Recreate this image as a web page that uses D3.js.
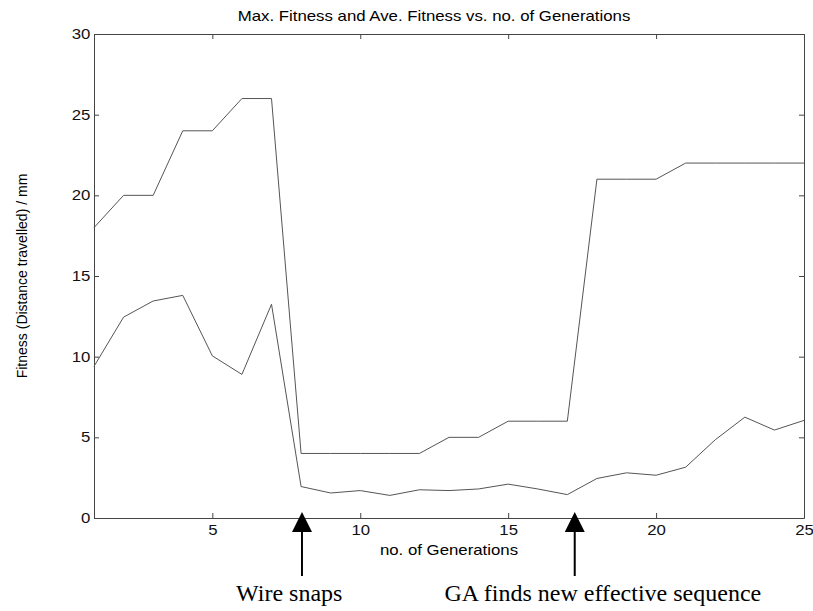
<!DOCTYPE html>
<html>
<head>
<meta charset="utf-8">
<script src="https://cdn.jsdelivr.net/npm/d3@7"></script>
<style>
  body { margin: 0; background: #fff; }
  svg { display: block; }
  .tick text { font-family: "Liberation Sans", Arial, sans-serif; font-size: 14px; fill: #111; }
</style>
</head>
<body>
<svg id="chart" width="813" height="611"></svg>
<script>
// generations 1..25
var generations = [1, 2, 3, 4, 5, 6, 7, 8, 9, 10, 11, 12, 13, 14, 15, 16, 17, 18, 19, 20, 21, 22, 23, 24, 25];
var maxFitness = [18, 20, 20, 24, 24, 26, 26, 4, 4, 4, 4, 4, 5, 5, 6, 6, 6, 21, 21, 21, 22, 22, 22, 22, 22];
var aveFitness = [9.4, 12.45, 13.45, 13.8, 10.05, 8.9, 13.25, 1.95, 1.55, 1.7, 1.4, 1.75, 1.7, 1.8, 2.1, 1.8, 1.45, 2.45, 2.8, 2.65, 3.15, 4.85, 6.25, 5.45, 6.05];
var xTicks = [5, 10, 15, 20, 25];
var yTicks = [0, 5, 10, 15, 20, 25, 30];
var annotations = [
    {gen: 8.03, label: "Wire snaps", textGen: 7.6},
    {gen: 17.25, label: "GA finds new effective sequence", textGen: 18.2}
];

var svg = d3.select("#chart");
var margin = {left: 94, top: 34, right: 9, bottom: 93};
var width = 813 - margin.left - margin.right,
    height = 611 - margin.top - margin.bottom;
var stretch = 1.2; // the figure text looks stretched sideways

var g = svg.append("g").attr("transform", "translate(" + margin.left + "," + margin.top + ")");

var x = d3.scaleLinear().domain([1, 25]).range([0, width]);
var y = d3.scaleLinear().domain([0, 30]).range([height, 0]);

var axisColor = "#444";

// bottom / left axes with labels, top / right just ticks (box)
var axBottom = g.append("g").attr("transform", "translate(0," + height + ")")
    .call(d3.axisBottom(x).tickValues(xTicks).tickSizeInner(-5).tickSizeOuter(0).tickPadding(7));
var axLeft = g.append("g")
    .call(d3.axisLeft(y).tickValues(yTicks).tickSizeInner(-5).tickSizeOuter(0));
var axTop = g.append("g")
    .call(d3.axisTop(x).tickValues(xTicks).tickSizeInner(-5).tickSizeOuter(0).tickFormat(""));
var axRight = g.append("g").attr("transform", "translate(" + width + ",0)")
    .call(d3.axisRight(y).tickValues(yTicks).tickSizeInner(-5).tickSizeOuter(0).tickFormat(""));

[axBottom, axLeft, axTop, axRight].forEach(function (a) {
    a.select(".domain").attr("stroke", axisColor);
    a.selectAll(".tick line").attr("stroke", axisColor);
});
axBottom.selectAll(".tick text").attr("transform", "scale(" + stretch + ",1)");
axLeft.selectAll(".tick text").attr("x", -3).attr("transform", "scale(" + stretch + ",1)");

var line = d3.line()
    .x(function (d, i) { return x(generations[i]); })
    .y(function (d) { return y(d); });

g.append("path").datum(maxFitness)
    .attr("d", line).attr("fill", "none").attr("stroke", "#555").attr("stroke-width", 1);
g.append("path").datum(aveFitness)
    .attr("d", line).attr("fill", "none").attr("stroke", "#555").attr("stroke-width", 1);

// title and axis labels
svg.append("text")
    .attr("transform", "translate(" + (margin.left + width / 2 - 15) + ",21) scale(" + stretch + ",1)")
    .attr("text-anchor", "middle")
    .style("font-family", "Liberation Sans, Arial, sans-serif").style("font-size", "14px")
    .text("Max. Fitness and Ave. Fitness vs. no. of Generations");

svg.append("text")
    .attr("transform", "translate(" + (margin.left + width / 2) + ",555) scale(" + stretch + ",1)")
    .attr("text-anchor", "middle")
    .style("font-family", "Liberation Sans, Arial, sans-serif").style("font-size", "14px")
    .text("no. of Generations");

svg.append("text")
    .attr("transform", "translate(27," + (margin.top + height / 2) + ") rotate(-90)")
    .attr("text-anchor", "middle")
    .style("font-family", "Liberation Sans, Arial, sans-serif").style("font-size", "14px")
    .text("Fitness (Distance travelled) / mm");

// annotation arrows
var ann = g.selectAll(".ann").data(annotations).enter().append("g").attr("class", "ann");
ann.append("line")
    .attr("x1", function (d) { return x(d.gen); }).attr("x2", function (d) { return x(d.gen); })
    .attr("y1", height + 12).attr("y2", height + 58)
    .attr("stroke", "#000").attr("stroke-width", 2);
ann.append("path")
    .attr("d", function (d) {
        var cx = x(d.gen);
        return "M" + cx + "," + (height - 6) + "L" + (cx + 10) + "," + (height + 14) + "L" + (cx - 10) + "," + (height + 14) + "Z";
    })
    .attr("fill", "#000");
ann.append("text")
    .attr("x", function (d) { return x(d.textGen); }).attr("y", height + 83)
    .attr("text-anchor", "middle")
    .style("font-family", "Liberation Serif, Times New Roman, serif").style("font-size", "24px")
    .text(function (d) { return d.label; });
</script>
</body>
</html>
